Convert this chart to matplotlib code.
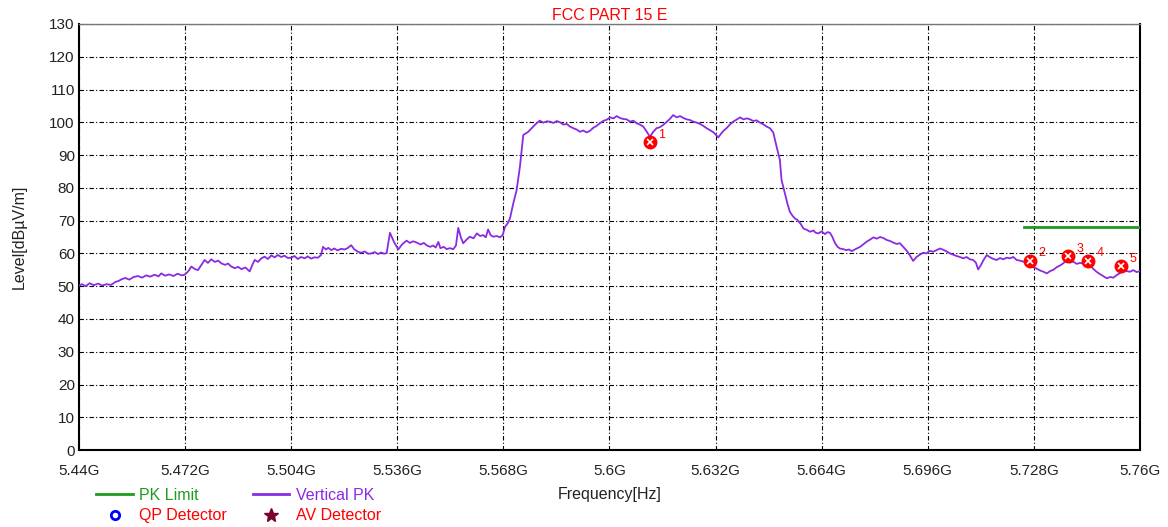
import matplotlib
matplotlib.use("Agg")
from matplotlib import pyplot as plt
from matplotlib.lines import Line2D
import numpy as np

plt.rcParams['font.family'] = ['Liberation Sans', 'DejaVu Sans']

# trace (GHz, dBuV/m)
freq = [5.4400, 5.4410, 5.4420, 5.4432, 5.4445, 5.4458, 5.4470, 5.4483, 5.4497, 5.4510,
        5.4520, 5.4528, 5.4540, 5.4552, 5.4565, 5.4578, 5.4590, 5.4603, 5.4615, 5.4628,
        5.4640, 5.4648, 5.4660, 5.4672, 5.4685, 5.4697, 5.4710, 5.4719, 5.4730, 5.4739,
        5.4750, 5.4759, 5.4768, 5.4779, 5.4789, 5.4799, 5.4810, 5.4820, 5.4829, 5.4840,
        5.4850, 5.4859, 5.4870, 5.4880, 5.4890, 5.4902, 5.4915, 5.4922, 5.4930, 5.4940,
        5.4950, 5.4960, 5.4970, 5.4980, 5.4990, 5.5000, 5.5010, 5.5020, 5.5030, 5.5040,
        5.5050, 5.5060, 5.5070, 5.5081, 5.5090, 5.5100, 5.5110, 5.5121, 5.5130, 5.5136,
        5.5145, 5.5152, 5.5161, 5.5170, 5.5180, 5.5190, 5.5201, 5.5210, 5.5221, 5.5230,
        5.5241, 5.5252, 5.5262, 5.5272, 5.5282, 5.5292, 5.5302, 5.5312, 5.5320, 5.5328,
        5.5338, 5.5350, 5.5363, 5.5375, 5.5388, 5.5398, 5.5408, 5.5419, 5.5430, 5.5440,
        5.5450, 5.5459, 5.5468, 5.5476, 5.5484, 5.5490, 5.5500, 5.5509, 5.5519, 5.5529,
        5.5537, 5.5544, 5.5552, 5.5559, 5.5569, 5.5579, 5.5590, 5.5600, 5.5610, 5.5619,
        5.5627, 5.5634, 5.5642, 5.5650, 5.5660, 5.5670, 5.5678, 5.5685, 5.5693, 5.5700,
        5.5710, 5.5720, 5.5730, 5.5740, 5.5755, 5.5770, 5.5780, 5.5790, 5.5800, 5.5811,
        5.5821, 5.5831, 5.5841, 5.5851, 5.5861, 5.5871, 5.5881, 5.5891, 5.5901, 5.5911,
        5.5921, 5.5931, 5.5941, 5.5951, 5.5961, 5.5971, 5.5981, 5.5992, 5.6002, 5.6012,
        5.6022, 5.6032, 5.6042, 5.6052, 5.6062, 5.6072, 5.6082, 5.6092, 5.6102, 5.6112,
        5.6122, 5.6132, 5.6142, 5.6152, 5.6162, 5.6172, 5.6182, 5.6192, 5.6203, 5.6213,
        5.6223, 5.6233, 5.6243, 5.6253, 5.6263, 5.6273, 5.6283, 5.6293, 5.6303, 5.6313,
        5.6320, 5.6328, 5.6338, 5.6345, 5.6353, 5.6363, 5.6373, 5.6383, 5.6394, 5.6404,
        5.6414, 5.6424, 5.6434, 5.6444, 5.6454, 5.6464, 5.6474, 5.6484, 5.6494, 5.6504,
        5.6514, 5.6519, 5.6529, 5.6537, 5.6544, 5.6552, 5.6559, 5.6567, 5.6576, 5.6585,
        5.6595, 5.6605, 5.6615, 5.6622, 5.6630, 5.6640, 5.6650, 5.6658, 5.6665, 5.6672,
        5.6680, 5.6688, 5.6695, 5.6705, 5.6714, 5.6722, 5.6731, 5.6740, 5.6748, 5.6756,
        5.6766, 5.6776, 5.6786, 5.6796, 5.6806, 5.6816, 5.6826, 5.6836, 5.6846, 5.6856,
        5.6866, 5.6876, 5.6886, 5.6896, 5.6906, 5.6916, 5.6926, 5.6936, 5.6946, 5.6956,
        5.6966, 5.6976, 5.6987, 5.6997, 5.7007, 5.7017, 5.7027, 5.7037, 5.7047, 5.7057,
        5.7067, 5.7077, 5.7087, 5.7097, 5.7105, 5.7112, 5.7120, 5.7129, 5.7138, 5.7148,
        5.7158, 5.7168, 5.7178, 5.7188, 5.7198, 5.7208, 5.7218, 5.7228, 5.7238, 5.7248,
        5.7258, 5.7268, 5.7278, 5.7288, 5.7298, 5.7309, 5.7319, 5.7329, 5.7339, 5.7349,
        5.7359, 5.7369, 5.7379, 5.7389, 5.7399, 5.7409, 5.7419, 5.7429, 5.7439, 5.7449,
        5.7459, 5.7469, 5.7479, 5.7490, 5.7500, 5.7510, 5.7520, 5.7530, 5.7540, 5.7550,
        5.7560, 5.7570, 5.7580, 5.7590, 5.7600]
level = [50.2, 50.6, 50.0, 50.9, 50.3, 50.8, 50.2, 50.6, 50.4, 51.3,
         51.6, 52.1, 52.5, 52.0, 52.8, 53.1, 52.6, 53.3, 52.9, 53.5,
         53.0, 53.9, 53.2, 53.6, 53.1, 53.8, 53.3, 53.5, 54.6, 56.0,
         55.2, 54.9, 56.3, 58.0, 57.1, 58.2, 57.4, 57.8, 57.0, 56.5,
         56.9, 56.0, 55.5, 55.9, 55.2, 55.7, 54.5, 56.3, 58.0, 57.4,
         58.5, 59.0, 58.3, 59.4, 58.8, 59.5, 58.9, 59.3, 58.6, 58.7,
         59.2, 58.3, 58.9, 58.5, 59.1, 58.4, 58.8, 58.7, 59.5, 62.0,
         61.2, 61.7, 61.0, 61.5, 60.9, 61.4, 61.2, 61.6, 62.5, 61.3,
         60.5, 60.2, 60.6, 59.9, 60.0, 60.4, 59.8, 60.3, 59.9, 60.1,
         66.3, 63.5, 61.2, 62.8, 63.9, 63.2, 63.7, 63.3, 62.7, 63.2,
         62.4, 62.0, 62.4, 61.8, 63.5, 61.6, 62.0, 61.3, 61.6, 61.3,
         62.4, 67.8, 64.8, 63.1, 64.2, 65.1, 64.6, 66.1, 65.3, 65.6,
         64.9, 67.3, 65.5, 65.1, 65.3, 64.9, 65.6, 68.1, 69.2, 70.7,
         75.3, 79.3, 86.5, 96.1, 97.1, 98.7, 99.7, 100.5, 99.9, 100.3,
         100.2, 99.8, 100.4, 100.0, 99.3, 99.5, 98.7, 98.2, 97.8, 97.1,
         97.5, 96.9, 97.4, 98.3, 98.9, 99.7, 100.4, 100.8, 101.5, 101.2,
         101.9, 101.3, 101.0, 100.9, 100.2, 100.5, 99.7, 99.3, 98.7, 97.2,
         95.6, 97.1, 98.2, 98.5, 99.2, 100.1, 101.0, 102.2, 101.5, 101.9,
         101.3, 100.9, 100.7, 100.2, 99.9, 99.5, 98.9, 98.2, 97.6, 97.0,
         96.3, 95.4, 96.7, 97.5, 98.2, 99.3, 100.2, 100.8, 101.5, 100.9,
         101.2, 100.9, 100.4, 100.6, 99.9, 99.4, 98.7, 98.2, 96.9, 92.6,
         88.5, 82.4, 78.3, 75.1, 72.7, 71.5, 70.7, 70.2, 69.1, 67.6,
         67.2, 66.6, 67.0, 66.3, 66.1, 66.7, 65.9, 66.5, 66.3, 65.1,
         63.2, 62.0, 61.5, 61.3, 61.0, 61.2, 60.7, 61.2, 61.6, 62.0,
         62.8, 63.6, 64.2, 64.9, 64.5, 65.0, 64.7, 64.1, 63.8, 63.3,
         62.9, 63.1, 62.0, 60.9, 59.4, 57.7, 58.9, 59.6, 60.2, 60.0,
         60.8, 60.5, 61.0, 61.5, 61.1, 60.6, 60.0, 59.6, 59.2, 58.9,
         58.5, 58.9, 58.2, 58.0, 57.2, 55.1, 56.4, 58.1, 59.5, 58.8,
         58.3, 58.0, 58.6, 58.2, 58.7, 58.5, 58.9, 58.0, 57.8, 57.5,
         57.0, 56.5, 55.8, 55.4, 54.8, 54.4, 53.9, 54.6, 55.0, 55.8,
         56.3, 57.0, 58.0, 57.2, 57.5, 56.8, 57.1, 56.9, 56.7, 56.5,
         55.3, 54.4, 53.7, 53.0, 52.4, 52.8, 52.6, 53.4, 54.0, 54.9,
         54.6, 54.4, 54.9, 54.3, 54.6]

limit_freq = [5.725, 5.76]
limit_level = [68.2, 68.2]

mark_freq = [5.6122, 5.7268, 5.7384, 5.7444, 5.7543]
mark_level = [93.9, 57.8, 59.2, 57.8, 56.1]
mark_label = ['1', '2', '3', '4', '5']

xticks = [5.44, 5.472, 5.504, 5.536, 5.568, 5.6, 5.632, 5.664, 5.696, 5.728, 5.76]
yticks = list(range(0, 131, 10))

purple = '#8a2be2'
green = '#1f9a1f'

fig = plt.figure(figsize=(11.68, 5.27), dpi=100)
ax = fig.add_axes([0.0676, 0.146, 0.9084, 0.8085])

ax.plot(freq, level, color=purple, lw=1.3, zorder=3)
ax.plot(limit_freq, limit_level, color=green, lw=2, zorder=3)
ax.plot(mark_freq, mark_level, 'o', ms=9, color='red', mec='red', zorder=4)
ax.plot(mark_freq, mark_level, 'x', ms=5, color='white', mew=1.2, zorder=5)
for f, l, t in zip(mark_freq, mark_level, mark_label):
    ax.annotate(t, (f, l), xytext=(6, 3), textcoords='offset points',
                color='red', fontsize=9)

ax.set_xlim(5.44, 5.76)
ax.set_ylim(0, 130)
ax.set_xticks(xticks)
ax.set_xticklabels([f"{v:g}G" for v in xticks])
ax.set_yticks(yticks)
ax.tick_params(axis='both', length=0, labelsize=11, colors='#222222')
ax.tick_params(axis='x', pad=10)
ax.tick_params(axis='y', pad=3)
ax.grid(True, color='black', lw=0.8, dashes=(4, 2, 1, 2))

for s in ['left', 'right', 'bottom']:
    ax.spines[s].set_color('black')
    ax.spines[s].set_linewidth(1.5)
ax.spines['top'].set_color('#777777')
ax.spines['top'].set_linewidth(1.0)

ax.set_title('FCC PART 15 E', color='red', fontsize=11.5, pad=3)
ax.set_ylabel('Level[dBµV/m]', fontsize=11.5, color='#222222', labelpad=16)
fig.text(0.522, 0.062, 'Frequency[Hz]', fontsize=11.5, color='#222222',
         ha='center', va='center')

handles = [Line2D([], [], color=green, lw=2),
           Line2D([], [], ls='none', marker='o', mfc='none', mec='blue', mew=2, ms=6),
           Line2D([], [], color=purple, lw=2),
           Line2D([], [], ls='none', marker='*', color='#7a0030', ms=10)]
labels = ['PK Limit', 'QP Detector', 'Vertical PK', 'AV Detector']
fig.legend(handles, labels, ncol=2, loc='upper left',
           bbox_to_anchor=(0.077, 0.087), frameon=False, fontsize=11.5,
           labelcolor=[green, 'red', purple, 'red'], handlelength=2.3,
           columnspacing=1.6, handletextpad=0.4, labelspacing=0.35,
           borderaxespad=0)

fig.savefig('out.png', dpi=100)
